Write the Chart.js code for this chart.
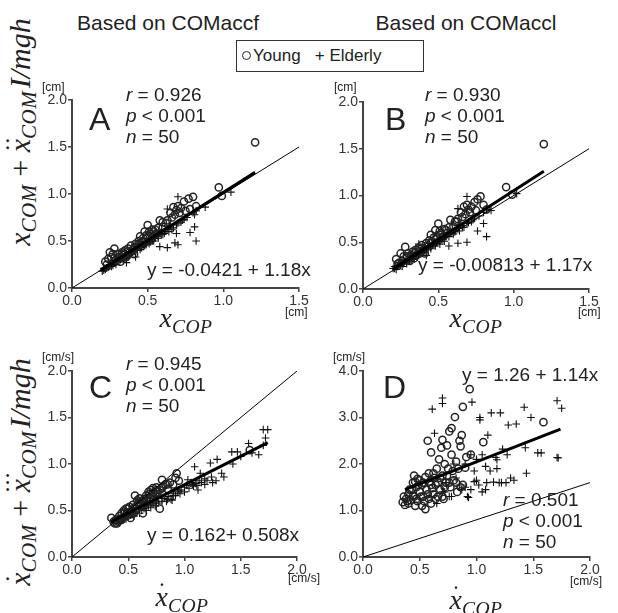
<!DOCTYPE html>
<html>
<head>
<meta charset="utf-8">
<script src="https://cdn.jsdelivr.net/npm/chart.js@4.4.1/dist/chart.umd.min.js"></script>
<style>
  body { margin: 0; width: 618px; height: 613px; background: #fff; position: relative; overflow: hidden;
         font-family: "Liberation Sans", Arial, sans-serif; color: #222; }
  canvas { position: absolute; }
  .t { position: absolute; white-space: nowrap; line-height: 1; }
  .title { font-size: 21px; }
  .stat { font-size: 19px; line-height: 21px; }
  .big { font-size: 32px; }
  .eq { font-size: 19px; }
  .unit { font-size: 12px; }
  .math { font-family: "Liberation Serif", "DejaVu Serif", serif; font-style: italic; }
  .math sub { font-size: 70%; vertical-align: -0.3em; line-height: 0; letter-spacing: 0.5px; }
  .gap { margin-right: 0.12em; }
  .acc { position: relative; display: inline-block; }
  .dots { position: absolute; left: 0.02em; top: -0.42em; font-style: normal; font-size: 0.8em; letter-spacing: -1px; }
  .ctr { transform: translate(-50%, -50%); }
  .rot { transform: translate(-50%, -50%) rotate(-90deg); }
  .legend { position: absolute; left: 236px; top: 40px; width: 186px; height: 30px; border: 1px solid #333;
            font-size: 17px; line-height: 30px; }
  .dot { display: inline-block; width: 7px; height: 7px; border: 1.4px solid #222; border-radius: 50%;
         margin: 0 2px 0 5px; vertical-align: 1px; }
</style>
</head>
<body>
<div class="t title ctr" style="left:168px; top:22px;">Based on COMaccf</div>
<div class="t title ctr" style="left:466px; top:22px;">Based on COMaccl</div>
<div class="legend"><span class="dot"></span>Young &nbsp;&nbsp;+ Elderly</div>

<div class="t math rot" style="left:20px; top:132px; font-size:30px;">x<sub>COM</sub> <span style="font-style:normal">+</span> <span class="acc">x<span class="dots">··</span></span><sub class="gap">COM</sub>I/mgh</div>
<div class="t math rot" style="left:20px; top:472px; font-size:30px;"><span class="acc">x<span class="dots" style="left:0.12em">·</span></span><sub>COM</sub> <span style="font-style:normal">+</span> <span class="acc">x<span class="dots" style="left:-0.05em">···</span></span><sub class="gap">COM</sub>I/mgh</div>

<canvas id="cA"></canvas>
<canvas id="cB"></canvas>
<canvas id="cC"></canvas>
<canvas id="cD"></canvas>

<!-- panel A -->
<div class="t unit" style="left:42px; top:81px;">[cm]</div>
<div class="t big" style="left:89px; top:103px;">A</div>
<div class="t stat" style="left:126px; top:84px;"><i>r</i> = 0.926<br><i>p</i> &lt; 0.001<br><i>n</i> = 50</div>
<div class="t eq" style="left:147px; top:260px;">y = -0.0421 + 1.18x</div>
<div class="t unit" style="left:285px; top:306px;">[cm]</div>
<div class="t math ctr" style="left:186px; top:318px; font-size:28px;">x<sub>COP</sub></div>

<!-- panel B -->
<div class="t unit" style="left:334px; top:81px;">[cm]</div>
<div class="t big" style="left:385px; top:103px;">B</div>
<div class="t stat" style="left:425px; top:84px;"><i>r</i> = 0.930<br><i>p</i> &lt; 0.001<br><i>n</i> = 50</div>
<div class="t eq" style="left:418px; top:255px;">y = -0.00813 + 1.17x</div>
<div class="t unit" style="left:578px; top:306px;">[cm]</div>
<div class="t math ctr" style="left:476px; top:318px; font-size:28px;">x<sub>COP</sub></div>

<!-- panel C -->
<div class="t unit" style="left:42px; top:351px;">[cm/s]</div>
<div class="t big" style="left:89px; top:371px;">C</div>
<div class="t stat" style="left:126px; top:353px;"><i>r</i> = 0.945<br><i>p</i> &lt; 0.001<br><i>n</i> = 50</div>
<div class="t eq" style="left:147px; top:525px;">y = 0.162+ 0.508x</div>
<div class="t unit" style="left:288px; top:572px;">[cm/s]</div>
<div class="t math ctr" style="left:182px; top:597px; font-size:28px;"><span class="acc">x<span class="dots" style="left:0.12em">·</span></span><sub>COP</sub></div>

<!-- panel D -->
<div class="t unit" style="left:333px; top:351px;">[cm/s]</div>
<div class="t big" style="left:383px; top:371px;">D</div>
<div class="t eq" style="left:462px; top:365px;">y = 1.26 + 1.14x</div>
<div class="t stat" style="left:503px; top:489px;"><i>r</i> = 0.501<br><i>p</i> &lt; 0.001<br><i>n</i> = 50</div>
<div class="t unit" style="left:570px; top:575px;">[cm/s]</div>
<div class="t math ctr" style="left:476px; top:600px; font-size:28px;"><span class="acc">x<span class="dots" style="left:0.12em">·</span></span><sub>COP</sub></div>

<script>
// Panel A: x_COP vs x_COM + ddx_COM I/mgh (COMaccf)
const youngA = [[0.22,0.28],[0.24,0.31],[0.25,0.38],[0.26,0.33],[0.27,0.36],[0.28,0.42],[0.29,0.3],[0.3,0.36],[0.31,0.33],[0.32,0.28],[0.33,0.38],[0.34,0.35],[0.35,0.4],[0.36,0.33],[0.37,0.42],[0.38,0.38],[0.39,0.45],[0.4,0.4],[0.41,0.36],[0.42,0.47],[0.43,0.44],[0.44,0.5],[0.45,0.55],[0.46,0.49],[0.47,0.53],[0.48,0.6],[0.49,0.56],[0.5,0.67],[0.51,0.6],[0.52,0.58],[0.53,0.55],[0.54,0.6],[0.55,0.62],[0.56,0.58],[0.58,0.72],[0.6,0.65],[0.62,0.69],[0.63,0.72],[0.65,0.8],[0.67,0.86],[0.68,0.78],[0.69,0.83],[0.7,0.87],[0.72,0.85],[0.74,0.92],[0.75,0.82],[0.77,0.95],[0.8,0.97],[0.82,0.87],[0.78,0.84],[0.97,1.07],[0.99,0.98],[1.21,1.55],
  [0.23,0.25],[0.28,0.32],[0.33,0.36],[0.37,0.39],[0.41,0.43],[0.44,0.46],[0.47,0.5],[0.5,0.55],[0.53,0.62],[0.57,0.64],[0.6,0.7],[0.66,0.75],[0.71,0.8]];
const elderlyA = [[0.2,0.18],[0.21,0.21],[0.22,0.2],[0.24,0.22],[0.25,0.25],[0.26,0.23],[0.27,0.24],[0.28,0.27],[0.29,0.25],[0.3,0.28],[0.31,0.3],[0.32,0.3],[0.33,0.33],[0.34,0.29],[0.35,0.31],[0.36,0.35],[0.36,0.27],[0.37,0.33],[0.38,0.35],[0.39,0.37],[0.4,0.38],[0.41,0.42],[0.42,0.33],[0.43,0.4],[0.44,0.44],[0.45,0.41],[0.46,0.43],[0.47,0.47],[0.48,0.45],[0.49,0.46],[0.5,0.5],[0.51,0.47],[0.52,0.49],[0.53,0.52],[0.54,0.5],[0.55,0.53],[0.56,0.56],[0.57,0.55],[0.58,0.58],[0.58,0.44],[0.6,0.57],[0.61,0.6],[0.62,0.62],[0.63,0.43],[0.63,0.84],[0.64,0.6],[0.65,0.66],[0.67,0.64],[0.68,0.48],[0.69,0.58],[0.7,0.69],[0.7,0.46],[0.7,0.97],[0.72,0.7],[0.74,0.73],[0.76,0.75],[0.78,0.59],[0.8,0.8],[0.81,0.78],[0.81,0.65],[0.82,0.5],[0.82,0.82],[0.88,0.86],[1.05,1.02],
  [0.21,0.19],[0.23,0.21],[0.25,0.23],[0.27,0.26],[0.29,0.28],[0.31,0.28],[0.33,0.31],[0.35,0.34],[0.37,0.35],[0.39,0.36],[0.41,0.39],[0.43,0.42],[0.45,0.44],[0.47,0.44],[0.49,0.48],[0.51,0.5],[0.53,0.5],[0.55,0.55],[0.57,0.53],[0.59,0.57],[0.61,0.58],[0.63,0.63],[0.66,0.62],[0.69,0.67],[0.73,0.72]];
const refA = [[0, 0], [1.5, 1.5]];
const fitA = [[0.19, 0.19], [1.21, 1.23]];

// Panel B (COMaccl)
const youngB = [[0.22,0.32],[0.23,0.27],[0.25,0.38],[0.26,0.3],[0.27,0.35],[0.28,0.45],[0.29,0.33],[0.3,0.38],[0.31,0.3],[0.32,0.36],[0.33,0.4],[0.34,0.33],[0.35,0.42],[0.36,0.37],[0.37,0.44],[0.38,0.4],[0.39,0.47],[0.4,0.42],[0.41,0.38],[0.42,0.49],[0.43,0.46],[0.44,0.52],[0.45,0.58],[0.46,0.5],[0.47,0.55],[0.48,0.63],[0.49,0.57],[0.5,0.7],[0.51,0.62],[0.52,0.6],[0.53,0.56],[0.55,0.63],[0.56,0.6],[0.58,0.74],[0.6,0.67],[0.62,0.72],[0.63,0.75],[0.65,0.82],[0.67,0.88],[0.68,0.8],[0.69,0.9],[0.7,0.85],[0.72,0.88],[0.74,0.93],[0.76,0.96],[0.78,0.99],[0.8,0.9],[0.75,0.84],[0.82,0.85],[0.95,1.09],[0.99,1.01],[1.2,1.55],
  [0.24,0.28],[0.29,0.35],[0.34,0.38],[0.38,0.43],[0.42,0.45],[0.45,0.5],[0.48,0.53],[0.51,0.58],[0.54,0.64],[0.57,0.66],[0.61,0.72],[0.66,0.77],[0.71,0.82]];
const elderlyB = [[0.2,0.22],[0.21,0.24],[0.22,0.21],[0.24,0.25],[0.25,0.27],[0.26,0.24],[0.27,0.28],[0.28,0.3],[0.29,0.27],[0.3,0.31],[0.31,0.32],[0.32,0.3],[0.33,0.35],[0.34,0.32],[0.35,0.37],[0.36,0.34],[0.37,0.36],[0.37,0.48],[0.38,0.38],[0.39,0.4],[0.4,0.39],[0.41,0.43],[0.42,0.36],[0.43,0.42],[0.44,0.46],[0.45,0.43],[0.46,0.47],[0.47,0.49],[0.48,0.46],[0.49,0.5],[0.5,0.52],[0.51,0.48],[0.52,0.53],[0.53,0.55],[0.54,0.51],[0.55,0.56],[0.56,0.58],[0.57,0.46],[0.58,0.6],[0.6,0.59],[0.61,0.63],[0.62,0.65],[0.63,0.49],[0.63,0.86],[0.64,0.62],[0.65,0.68],[0.67,0.66],[0.69,0.5],[0.69,0.99],[0.7,0.71],[0.72,0.72],[0.74,0.76],[0.76,0.62],[0.77,0.78],[0.8,0.7],[0.8,0.82],[0.82,0.56],[0.82,0.85],[0.85,0.84],[1.02,1.02],
  [0.21,0.22],[0.23,0.24],[0.25,0.25],[0.27,0.27],[0.29,0.29],[0.31,0.31],[0.33,0.33],[0.35,0.35],[0.37,0.38],[0.39,0.38],[0.41,0.41],[0.43,0.44],[0.45,0.45],[0.47,0.47],[0.49,0.49],[0.51,0.52],[0.53,0.53],[0.55,0.57],[0.57,0.56],[0.59,0.6],[0.61,0.61],[0.63,0.65],[0.66,0.66],[0.69,0.7],[0.73,0.74]];
const refB = [[0, 0], [1.5, 1.5]];
const fitB = [[0.2, 0.22], [1.2, 1.26]];

// Panel C: velocities (COMaccf)
const youngC = [[0.35,0.42],[0.37,0.38],[0.39,0.4],[0.4,0.36],[0.41,0.38],[0.42,0.44],[0.43,0.4],[0.44,0.47],[0.45,0.42],[0.46,0.5],[0.47,0.44],[0.48,0.52],[0.49,0.46],[0.5,0.48],[0.51,0.54],[0.52,0.42],[0.53,0.5],[0.54,0.56],[0.55,0.47],[0.56,0.66],[0.57,0.52],[0.58,0.61],[0.59,0.58],[0.6,0.63],[0.61,0.55],[0.62,0.6],[0.63,0.47],[0.64,0.62],[0.65,0.58],[0.66,0.66],[0.67,0.6],[0.68,0.7],[0.69,0.64],[0.7,0.72],[0.71,0.67],[0.72,0.74],[0.73,0.62],[0.74,0.68],[0.75,0.75],[0.76,0.7],[0.78,0.52],[0.78,0.72],[0.8,0.83],[0.81,0.76],[0.83,0.78],[0.85,0.73],[0.87,0.8],[0.9,0.78],[0.92,0.85],[0.93,0.9],[0.95,0.82],[1.58,1.15],
  [0.38,0.36],[0.42,0.41],[0.44,0.4],[0.47,0.48],[0.5,0.52],[0.53,0.46],[0.55,0.53],[0.58,0.55],[0.6,0.57],[0.63,0.6],[0.66,0.63],[0.69,0.68],[0.72,0.69],[0.75,0.72],[0.8,0.74],[0.85,0.78]];
const elderlyC = [[0.42,0.37],[0.45,0.4],[0.48,0.41],[0.5,0.43],[0.52,0.45],[0.55,0.44],[0.57,0.48],[0.6,0.47],[0.62,0.5],[0.64,0.52],[0.66,0.5],[0.68,0.55],[0.7,0.53],[0.72,0.57],[0.74,0.55],[0.75,0.6],[0.77,0.58],[0.8,0.6],[0.82,0.63],[0.84,0.6],[0.86,0.65],[0.88,0.62],[0.89,0.61],[0.9,0.68],[0.92,0.66],[0.94,0.7],[0.96,0.68],[0.97,0.72],[1.0,0.75],[1.0,0.7],[1.03,0.83],[1.04,0.74],[1.06,0.8],[1.08,0.76],[1.09,0.97],[1.1,0.79],[1.11,0.77],[1.12,0.72],[1.14,0.9],[1.15,0.8],[1.18,0.78],[1.2,0.82],[1.23,1.01],[1.25,0.8],[1.28,0.82],[1.29,1.05],[1.33,0.9],[1.35,0.86],[1.42,1.13],[1.43,1.0],[1.47,1.13],[1.5,1.08],[1.57,1.22],[1.6,1.12],[1.66,1.1],[1.7,1.37],[1.72,1.28],[1.74,1.37],[1.7,1.2],
  [0.55,0.47],[0.6,0.52],[0.65,0.54],[0.7,0.57],[0.75,0.58],[0.8,0.63],[0.85,0.62],[0.9,0.66],[0.95,0.72],[1.02,0.77],[1.07,0.78],[1.13,0.82],[1.18,0.84],[1.24,0.86]];
const refC = [[0, 0], [2, 2]];
const fitC = [[0.35, 0.38], [1.74, 1.23]];

// Panel D: velocities (COMaccl)
const youngD = [[0.35,1.18],[0.37,1.12],[0.38,1.25],[0.4,1.35],[0.4,1.15],[0.42,1.22],[0.43,1.45],[0.44,1.6],[0.45,1.3],[0.46,1.1],[0.47,1.5],[0.48,1.68],[0.48,1.2],[0.5,1.4],[0.5,1.65],[0.52,1.1],[0.52,1.55],[0.53,1.3],[0.55,1.72],[0.55,1.03],[0.56,1.45],[0.57,2.5],[0.58,1.25],[0.58,1.8],[0.6,2.25],[0.6,1.55],[0.62,1.35],[0.63,1.7],[0.64,1.25],[0.65,1.9],[0.66,1.6],[0.67,2.1],[0.68,1.45],[0.69,2.35],[0.7,1.75],[0.7,2.52],[0.71,1.25],[0.72,2.0],[0.73,1.6],[0.74,2.4],[0.75,1.9],[0.76,2.7],[0.77,1.5],[0.78,2.77],[0.78,2.2],[0.8,1.65],[0.81,3.01],[0.82,2.05],[0.83,1.4],[0.85,2.5],[0.86,2.38],[0.87,2.62],[0.88,3.23],[0.9,1.92],[0.91,2.15],[0.94,3.61],[0.95,2.2],[1.06,2.47],[1.59,2.9],[0.88,1.55],[0.6,1.15],[0.45,1.75],
  [0.36,1.3],[0.39,1.2],[0.41,1.45],[0.44,1.32],[0.46,1.62],[0.47,1.25],[0.49,1.55],[0.51,1.3],[0.53,1.6],[0.54,1.2],[0.57,1.35],[0.59,1.62],[0.61,1.48],[0.62,1.8],[0.64,1.55],[0.66,1.3],[0.68,1.7],[0.7,1.3],[0.72,1.5],[0.74,1.75],[0.76,1.6],[0.79,1.85],[0.82,1.6],[0.84,1.9],[0.86,1.5]];
const elderlyD = [[0.61,3.18],[0.63,2.66],[0.7,3.42],[0.7,3.3],[0.6,1.3],[0.65,1.15],[0.7,1.4],[0.72,1.4],[0.73,1.6],[0.76,1.3],[0.78,1.3],[0.8,2.0],[0.82,1.7],[0.85,1.55],[0.87,1.45],[0.9,1.5],[0.9,2.0],[0.92,1.3],[0.93,1.28],[0.95,1.45],[0.95,2.2],[0.96,3.33],[0.98,1.62],[1.0,1.65],[1.0,2.1],[1.02,1.55],[1.03,3.0],[1.03,2.95],[1.05,1.4],[1.05,2.2],[1.08,1.95],[1.09,1.6],[1.1,2.62],[1.12,1.85],[1.13,3.1],[1.15,1.61],[1.17,2.14],[1.18,2.09],[1.18,1.9],[1.2,1.6],[1.21,3.1],[1.22,1.6],[1.23,2.32],[1.26,1.6],[1.27,2.2],[1.28,2.84],[1.3,1.7],[1.33,1.65],[1.35,2.86],[1.42,3.22],[1.43,2.35],[1.44,1.8],[1.48,3.0],[1.54,2.24],[1.57,2.24],[1.71,3.36],[1.71,2.14],[1.72,2.13],[1.75,3.2],[0.98,1.85],[1.08,1.45]];
const refD = [[0, 0], [2, 1.6]];
const fitD = [[0.37, 1.45], [1.74, 2.75]];

const FONT = '"Liberation Sans", Arial, sans-serif';
const pts = arr => arr.map(p => ({ x: p[0], y: p[1] }));

function axis(max, step, fit) {
  return {
    type: 'linear', min: 0, max: max,
    afterFit: fit,
    ticks: {
      stepSize: step, autoSkip: false, maxRotation: 0, padding: 1,
      callback: v => v.toFixed(1),
      color: '#333', font: { family: FONT, size: 14 }
    },
    grid: { drawOnChartArea: false, drawTicks: true, tickLength: 4, color: '#444', lineWidth: 1.5 },
    border: { display: true, color: '#444', width: 2 }
  };
}

// box = canvas rect on the page, area = wanted plot area on the page
function panel(id, box, area, xr, yr, young, elderly, ref, fit) {
  const cv = document.getElementById(id);
  cv.width = box.w;
  cv.height = box.h;
  cv.style.left = box.x + 'px';
  cv.style.top = box.y + 'px';
  return new Chart(cv, {
    type: 'scatter',
    data: {
      datasets: [
        { data: pts(fit), showLine: true, borderColor: '#000', borderWidth: 3, pointRadius: 0 },
        { data: pts(ref), showLine: true, borderColor: '#000', borderWidth: 1, pointRadius: 0 },
        { data: pts(young), pointStyle: 'circle', pointRadius: 3.6, borderWidth: 1.5,
          borderColor: '#222', backgroundColor: 'rgba(0,0,0,0)' },
        { data: pts(elderly), pointStyle: 'cross', pointRadius: 3.8, borderWidth: 1.1,
          borderColor: '#111' }
      ]
    },
    options: {
      responsive: false, animation: false, devicePixelRatio: 1,
      layout: { padding: { left: 0, bottom: 0, top: area.t - box.y, right: box.x + box.w - area.r } },
      plugins: { legend: { display: false }, tooltip: { enabled: false } },
      scales: {
        x: axis(xr[0], xr[1], s => { s.height = box.y + box.h - area.b; s.paddingLeft = 0; s.paddingRight = 0; }),
        y: axis(yr[0], yr[1], s => { s.width = area.l - box.x; s.paddingTop = 0; s.paddingBottom = 0; })
      }
    }
  });
}

panel('cA', { x: 0, y: 60, w: 310, h: 260 }, { l: 72, t: 100, r: 299, b: 288 }, [1.5, 0.5], [2, 0.5], youngA, elderlyA, refA, fitA);
panel('cB', { x: 310, y: 60, w: 300, h: 260 }, { l: 363, t: 102, r: 589, b: 289 }, [1.5, 0.5], [2, 0.5], youngB, elderlyB, refB, fitB);
panel('cC', { x: 0, y: 330, w: 310, h: 270 }, { l: 72, t: 371, r: 297, b: 557 }, [2, 0.5], [2, 0.5], youngC, elderlyC, refC, fitC);
panel('cD', { x: 310, y: 330, w: 300, h: 270 }, { l: 363, t: 371, r: 590, b: 557 }, [2, 0.5], [4, 1], youngD, elderlyD, refD, fitD);
</script>
</body>
</html>
